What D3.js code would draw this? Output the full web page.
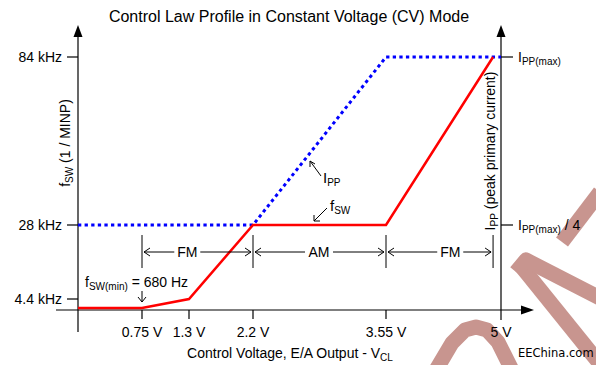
<!DOCTYPE html>
<html><head><meta charset="utf-8">
<script src="https://cdn.jsdelivr.net/npm/d3@7"></script>
<style>
body{margin:0;background:#fff;}
svg{display:block;font-family:"Liberation Sans",Arial,sans-serif;}
</style></head>
<body><svg id="c" width="596" height="365"></svg>
<script>
// ---- data ----
const title = "Control Law Profile in Constant Voltage (CV) Mode";
const xTickValues = [0.75, 1.3, 2.2, 3.55, 5];
const xTickLabels = ["0.75 V", "1.3 V", "2.2 V", "3.55 V", "5 V"];
const yTickValues = [4.4, 28, 84];
const yTickLabels = ["4.4 kHz", "28 kHz", "84 kHz"];
const fswV = [0, 0.75, 1.3, 2.2, 3.55, 4.9];      // control voltage (V)
const fswK = [0.68, 0.68, 4.4, 28, 28, 84];        // switching frequency (kHz)
const ippV = [0, 2.2, 3.55, 5];
const ippK = [28, 28, 84, 84];                      // Ipp expressed on the frequency axis
const modeBounds = [0.75, 2.2, 3.55, 4.9];
const modeLabels = ["FM", "AM", "FM"];
const modeLabelV = [1.28, 2.87, 4.36];

// ---- scales (piecewise, as in the drawing) ----
const x = d3.scaleLinear().domain([0, 0.75, 1.3, 2.2, 3.55, 5]).range([78, 142, 189, 253, 386, 501]);
const y = d3.scaleLinear().domain([0.68, 4.4, 28, 84]).range([308, 299, 225, 57]);

const svg = d3.select("#c");
const wm = "#c8958f";

// watermark (behind)
const gw = svg.append("g").attr("fill", "none").attr("stroke", wm).attr("stroke-width", 15).attr("stroke-linejoin", "round");
gw.append("path").attr("d", "M436,370 L452,343 L465,330 L476,327 L487,330 L498,342 L512,370");
gw.append("path").attr("d", "M521,266 L600,364");
gw.append("path").attr("d", "M516,272 L526,260 L600,298");
gw.append("path").attr("d", "M562,242 L600,192");

// axes
const ax = svg.append("g").attr("stroke", "#000").attr("stroke-width", 1.2);
ax.append("line").attr("x1", x(0)).attr("x2", x(0)).attr("y1", 34).attr("y2", 332);
ax.append("line").attr("x1", x(5)).attr("x2", x(5)).attr("y1", 34).attr("y2", 320);
ax.append("line").attr("x1", 56).attr("x2", 524).attr("y1", 310).attr("y2", 310);
svg.append("path").attr("d", `M${x(0)},25 L${x(0)-4.5},37 L${x(0)+4.5},37Z`).attr("fill", "#000");
svg.append("path").attr("d", `M${x(5)},25 L${x(5)-4.5},37 L${x(5)+4.5},37Z`).attr("fill", "#000");
svg.append("path").attr("d", `M534,310 L521,305.5 L521,314.5Z`).attr("fill", "#000");

// x ticks
ax.selectAll(".xt").data(xTickValues.slice(0, 4)).join("line")
  .attr("x1", d => x(d)).attr("x2", d => x(d)).attr("y1", 310).attr("y2", 319);
svg.selectAll(".xl").data(xTickValues).join("text")
  .attr("x", d => x(d)).attr("y", 337).attr("text-anchor", "middle")
  .attr("font-size", 14).text((d, i) => xTickLabels[i]);

// y ticks
ax.selectAll(".yt").data(yTickValues).join("line")
  .attr("x1", 67).attr("x2", x(0)).attr("y1", d => y(d)).attr("y2", d => y(d));
svg.selectAll(".yl").data(yTickValues).join("text")
  .attr("x", 62).attr("y", d => y(d) + 5).attr("text-anchor", "end")
  .attr("font-size", 14).text((d, i) => yTickLabels[i]);

// right ticks
ax.selectAll(".rt").data([84, 28]).join("line")
  .attr("x1", x(5)).attr("x2", 513).attr("y1", d => y(d)).attr("y2", d => y(d));

function sub(t, main, s, rest, fs, sfs) {
  t.append("tspan").text(main);
  t.append("tspan").attr("font-size", sfs).attr("dy", 3).text(s);
  if (rest) t.append("tspan").attr("dy", -3).text(rest);
  return t;
}
sub(svg.append("text").attr("x", 518).attr("y", y(84) + 5).attr("font-size", 14), "I", "PP(max)", null, 14, 10);
sub(svg.append("text").attr("x", 518).attr("y", y(28) + 5).attr("font-size", 14), "I", "PP(max)", " / 4", 14, 10);

// title
svg.append("text").attr("x", 289).attr("y", 22).attr("text-anchor", "middle").attr("font-size", 16).text(title);

// axis titles
sub(svg.append("text").attr("x", 290).attr("y", 358).attr("text-anchor", "middle").attr("font-size", 14),
  "Control Voltage, E/A Output - V", "CL", null, 14, 10);
sub(svg.append("text").attr("transform", "translate(70,143) rotate(-90)").attr("text-anchor", "middle").attr("font-size", 14),
  "f", "SW", " (1 / MINP)", 14, 10);
sub(svg.append("text").attr("transform", "translate(495,151) rotate(-90)").attr("text-anchor", "middle").attr("font-size", 14),
  "I", "PP", " (peak primary current)", 14, 10);

// lines
const line = d3.line().x(d => x(d[0])).y(d => y(d[1]));
svg.append("path").datum(ippV.map((v, i) => [v, ippK[i]])).attr("d", line)
  .attr("fill", "none").attr("stroke", "#0000ff").attr("stroke-width", 3).attr("stroke-dasharray", "3.3,3.3");
svg.append("path").datum(fswV.map((v, i) => [v, fswK[i]])).attr("d", line)
  .attr("fill", "none").attr("stroke", "#ff0000").attr("stroke-width", 2.5).attr("stroke-linejoin", "miter");

// mode markers
const gm = svg.append("g").attr("stroke", "#000").attr("stroke-width", 1).attr("fill", "none");
gm.selectAll(".mb").data(modeBounds).join("line")
  .attr("x1", d => x(d)).attr("x2", d => x(d)).attr("y1", 235).attr("y2", 268);
const my = 252;
modeLabels.forEach((lab, i) => {
  const a = x(modeBounds[i]) + 2, b = x(modeBounds[i + 1]) - 2, c = x(modeLabelV[i]);
  const hw = lab === "FM" ? 13 : 14;
  gm.append("path").attr("d", `M${a},${my} L${c-hw},${my} M${a+6},${my-4} L${a},${my} L${a+6},${my+4}`);
  gm.append("path").attr("d", `M${c+hw},${my} L${b},${my} M${b-6},${my-4} L${b},${my} L${b-6},${my+4}`);
  svg.append("text").attr("x", c).attr("y", my + 5).attr("text-anchor", "middle").attr("font-size", 14).text(lab);
});

// fsw(min) annotation
sub(svg.append("text").attr("x", 85).attr("y", 287).attr("font-size", 14), "f", "SW(min)", " = 680 Hz", 14, 10);
gm.append("path").attr("d", `M${x(0.75)},291 L${x(0.75)},302 M${x(0.75)-4},297 L${x(0.75)},302 L${x(0.75)+4},297`);

// Ipp and fsw annotations
gm.append("path").attr("d", "M321,176 L310,161 M310,167 L310,161 L315,164");
sub(svg.append("text").attr("x", 323).attr("y", 183).attr("font-size", 15), "I", "PP", null, 15, 10);
gm.append("path").attr("d", "M327,208 L314,221 M314,215 L314,221 L320,221");
sub(svg.append("text").attr("x", 330).attr("y", 211).attr("font-size", 15), "f", "SW", null, 15, 10);

// watermark text
svg.append("text").attr("x", 518).attr("y", 357)
  .attr("font-family", "DejaVu Sans, sans-serif").attr("font-size", 11.5).text("EEChina.com");
</script></body></html>
